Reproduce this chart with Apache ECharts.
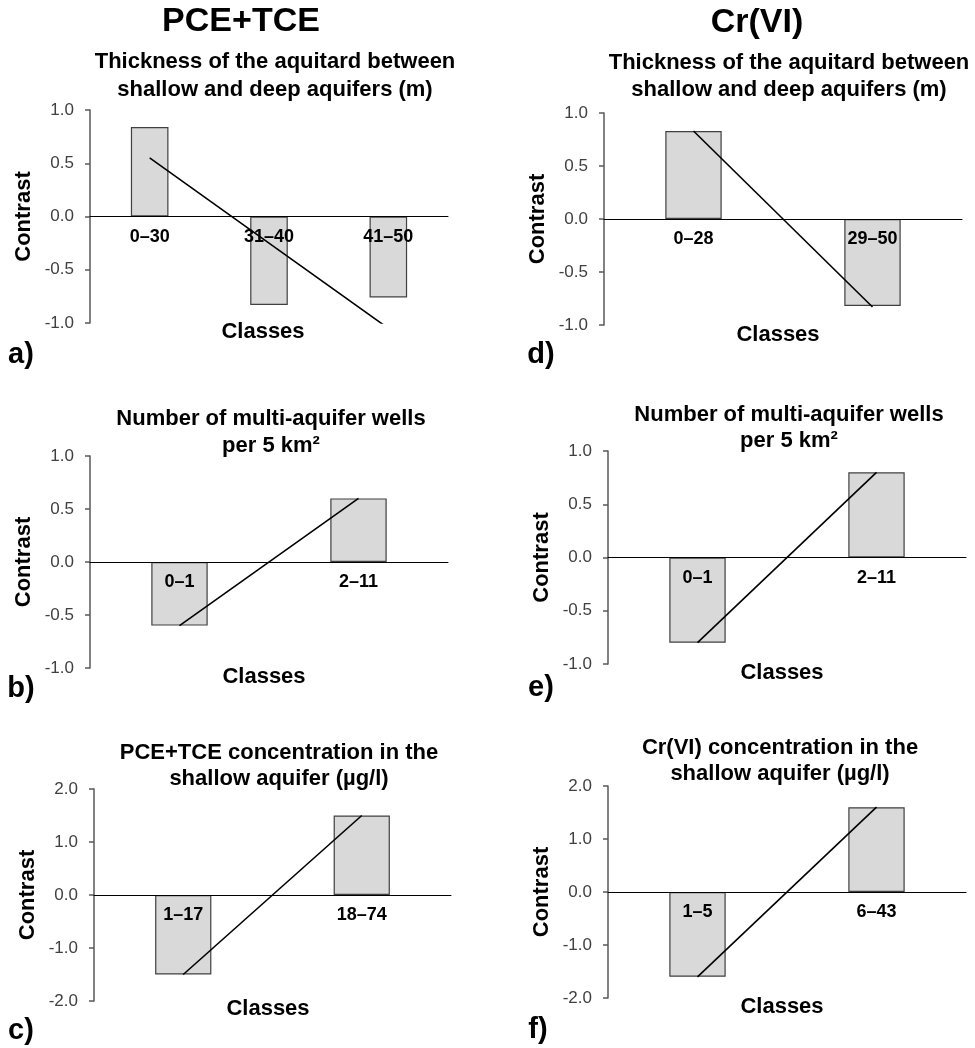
<!DOCTYPE html>
<html>
<head>
<meta charset="utf-8">
<script src="https://cdn.jsdelivr.net/npm/echarts@6/dist/echarts.min.js"></script>
<style>
html,body{margin:0;padding:0;background:#fff;}
#chart{width:975px;height:1048px;}
</style>
</head>
<body>
<div id="chart"></div>
<script>
// ---- data ----
const catsA = ['0–30', '31–40', '41–50'];
const valsA = [0.84, -0.83, -0.76];
const trendA = [0.55, -0.25, -1.05];

const catsB = ['0–1', '2–11'];
const valsB = [-0.60, 0.60];
const trendB = [-0.60, 0.60];

const catsC = ['1–17', '18–74'];
const valsC = [-1.50, 1.50];
const trendC = [-1.50, 1.50];

const catsD = ['0–28', '29–50'];
const valsD = [0.83, -0.82];
const trendD = [0.83, -0.83];

const catsE = ['0–1', '2–11'];
const valsE = [-0.80, 0.80];
const trendE = [-0.80, 0.80];

const catsF = ['1–5', '6–43'];
const valsF = [-1.60, 1.60];
const trendF = [-1.60, 1.60];

const rangeSmall = [-1, 1, 0.5];   // min, max, interval
const rangeLarge = [-2, 2, 1];

const headers = ['PCE+TCE', 'Cr(VI)'];
const subtitles = [
  ['Thickness of the aquitard between', 'shallow and deep aquifers (m)'],
  ['Number of multi-aquifer wells', 'per 5 km²'],
  ['PCE+TCE concentration in the', 'shallow aquifer (µg/l)'],
  ['Thickness of the aquitard between', 'shallow and deep aquifers (m)'],
  ['Number of multi-aquifer wells', 'per 5 km²'],
  ['Cr(VI) concentration in the', 'shallow aquifer (µg/l)']
];
const panelLetters = ['a)', 'b)', 'c)', 'd)', 'e)', 'f)'];
const xName = 'Classes';
const yName = 'Contrast';

// ---- layout ----
const FONT = '"Liberation Sans", Arial, sans-serif';
const panels = [
  {cats: catsA, vals: valsA, trend: trendA, range: rangeSmall, grid: {left: 90, top: 110, width: 358, height: 213}, sub: [275, 62, 90], cls: [263, 332], let: [21, 355]},
  {cats: catsB, vals: valsB, trend: trendB, range: rangeSmall, grid: {left: 90, top: 456, width: 358, height: 212}, sub: [271, 419, 446], cls: [264, 677], let: [21, 689]},
  {cats: catsC, vals: valsC, trend: trendC, range: rangeLarge, grid: {left: 94, top: 789, width: 357, height: 212}, sub: [279, 753, 779], cls: [268, 1009], let: [21, 1031]},
  {cats: catsD, vals: valsD, trend: trendD, range: rangeSmall, grid: {left: 604, top: 113, width: 358, height: 212}, sub: [789, 63, 90], cls: [778, 335], let: [541, 355]},
  {cats: catsE, vals: valsE, trend: trendE, range: rangeSmall, grid: {left: 608, top: 451, width: 358, height: 213}, sub: [789, 415, 441], cls: [782, 673], let: [541, 688]},
  {cats: catsF, vals: valsF, trend: trendF, range: rangeLarge, grid: {left: 608, top: 786, width: 358, height: 212}, sub: [780, 748, 774], cls: [782, 1007], let: [538, 1030]}
];

const grids = [], xAxes = [], yAxes = [], series = [], graphics = [];

panels.forEach((p, i) => {
  grids.push(Object.assign({containLabel: false}, p.grid));
  xAxes.push({
    type: 'category', gridIndex: i, data: p.cats, z: 3,
    axisLine: {show: true, onZero: true, lineStyle: {color: '#000', width: 1}},
    axisTick: {show: false},
    axisLabel: {show: false},
    splitLine: {show: false}
  });
  yAxes.push({
    type: 'value', gridIndex: i, min: p.range[0], max: p.range[1], interval: p.range[2],
    name: yName, nameLocation: 'middle', nameGap: 55, nameRotate: 90,
    nameTextStyle: {color: '#000', fontFamily: FONT, fontWeight: 'bold', fontSize: 22},
    axisLine: {show: true, lineStyle: {color: '#595959', width: 1.5}},
    axisTick: {show: true, inside: false, length: 5, lineStyle: {color: '#595959', width: 1.5}},
    axisLabel: {color: '#404040', fontFamily: FONT, fontSize: 17, margin: 16,
      formatter: v => v.toFixed(1)},
    splitLine: {show: false}
  });
  series.push({
    type: 'bar', xAxisIndex: i, yAxisIndex: i, data: p.vals, barWidth: '31.5%', z: 2,
    itemStyle: {color: '#d9d9d9', borderColor: '#404040', borderWidth: 1.2},
    silent: true, animation: false
  });
  // category labels sitting just below the zero line
  series.push({
    type: 'scatter', xAxisIndex: i, yAxisIndex: i, z: 3,
    data: p.cats.map((c, k) => ({value: [k, 0], name: c})),
    symbol: 'circle', symbolSize: 1,
    itemStyle: {color: 'rgba(0,0,0,0)'},
    label: {show: true, position: 'bottom', distance: 11, color: '#000', opacity: 1,
      textBorderWidth: 0, fontFamily: FONT, fontWeight: 'bold', fontSize: 18,
      formatter: '{b}'},
    emphasis: {disabled: true},
    labelLayout: {hideOverlap: false},
    silent: true, animation: false
  });
  series.push({
    type: 'line', xAxisIndex: i, yAxisIndex: i, data: p.trend, z: 4, clip: true,
    symbol: 'none', lineStyle: {color: '#000', width: 1.6},
    silent: true, animation: false
  });
  graphics.push({type: 'text', x: p.sub[0], y: p.sub[1], style: {text: subtitles[i][0], font: 'bold 22px ' + FONT, fill: '#000', align: 'center', verticalAlign: 'middle'}});
  graphics.push({type: 'text', x: p.sub[0], y: p.sub[2], style: {text: subtitles[i][1], font: 'bold 22px ' + FONT, fill: '#000', align: 'center', verticalAlign: 'middle'}});
  graphics.push({type: 'text', x: p.cls[0], y: p.cls[1], style: {text: xName, font: 'bold 22px ' + FONT, fill: '#000', align: 'center', verticalAlign: 'middle'}});
  graphics.push({type: 'text', x: p.let[0], y: p.let[1], style: {text: panelLetters[i], font: 'bold 29px ' + FONT, fill: '#000', align: 'center', verticalAlign: 'middle'}});
});

graphics.push({type: 'text', x: 241, y: 22, style: {text: headers[0], font: 'bold 34px ' + FONT, fill: '#000', align: 'center', verticalAlign: 'middle'}});
graphics.push({type: 'text', x: 757, y: 23, style: {text: headers[1], font: 'bold 34px ' + FONT, fill: '#000', align: 'center', verticalAlign: 'middle'}});

const chart = echarts.init(document.getElementById('chart'), null, {renderer: 'canvas'});
chart.setOption({
  animation: false,
  backgroundColor: '#fff',
  grid: grids,
  xAxis: xAxes,
  yAxis: yAxes,
  series: series,
  graphic: graphics
});
</script>
</body>
</html>
